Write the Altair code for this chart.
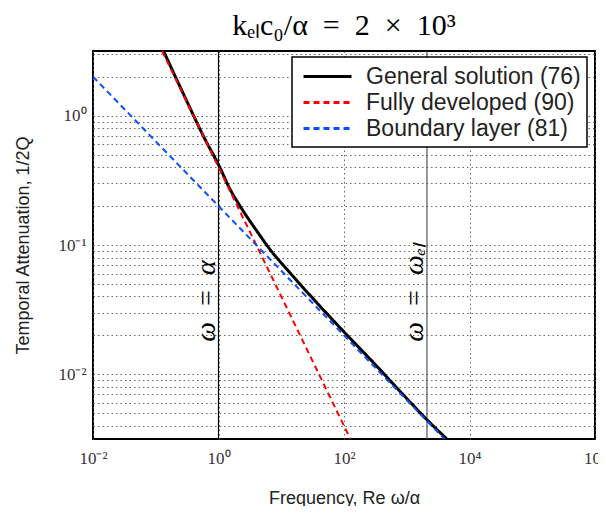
import altair as alt
import pandas as pd

# ---- data ----
series_names = ["General solution (76)", "Fully developed (90)", "Boundary layer (81)"]
series_colors = ["#000000", "#ff0000", "#0a4fff"]
series_dashes = [[1, 0], [6, 4], [6, 4]]
series_widths = [3, 2, 2]

general_freq = [0.133, 0.3, 0.614, 1.0, 1.54, 2.22, 3.2, 4.09, 6.66, 13.9, 22.6, 32.6, 98, 300, 1000, 2094, 4365]
general_att = [3.16, 1.35, 0.652, 0.418, 0.268, 0.199, 0.152, 0.128, 0.092, 0.0607, 0.0465, 0.0382, 0.0215, 0.0122, 0.0065, 0.00446, 0.00316]

fully_freq = [0.126, 1.0, 10.0, 126.0]
fully_att = [3.17, 0.4, 0.04, 0.00317]

boundary_freq = [0.01, 1.0, 100.0, 4000.0]
boundary_att = [2.0, 0.2, 0.02, 0.00316]

marker_freq = [1.0, 2100.0]
marker_labels = ["ω\u2002=\u2002α", "ω\u2002=\u2002ωₑₗ"]
marker_colors = ["#000000", "#555555"]
marker_label_att = [0.0179, 0.0179]

x_ticks = [1e-2, 1.0, 1e2, 1e4, 1e6]
x_tick_labels = ["10⁻²", "10⁰", "10²", "10⁴", "10⁶"]
y_ticks = [0.01, 0.1, 1.0]
y_tick_labels = ["10⁻²", "10⁻¹", "10⁰"]

x_domain = [1e-2, 1e6]
y_domain = [10 ** -2.5, 10 ** 0.5]
y_grid = [m * 10.0 ** e for e in (-3, -2, -1, 0) for m in range(1, 10)
          if y_domain[0] <= m * 10.0 ** e <= y_domain[1]]

# ---- tables ----
rows = []
for name, fx, fy in zip(series_names,
                        [general_freq, fully_freq, boundary_freq],
                        [general_att, fully_att, boundary_att]):
    for a, b in zip(fx, fy):
        rows.append({"series": name, "freq": a, "att": b})
lines_df = pd.DataFrame(rows)
marker_df = pd.DataFrame({"freq": marker_freq, "label": marker_labels,
                          "att": marker_label_att, "color": marker_colors})


def label_expr(vals, labels):
    expr = "''"
    for v, l in reversed(list(zip(vals, labels))):
        expr = f"abs(datum.value - {v!r}) < {v * 1e-6!r} ? '{l}' : ({expr})"
    return expr


x_scale = alt.Scale(type="log", domain=x_domain, nice=False)
y_scale = alt.Scale(type="log", domain=y_domain, nice=False)

x_axis = alt.Axis(values=x_ticks, labelExpr=label_expr(x_ticks, x_tick_labels),
                  grid=True, ticks=False, domain=False,
                  labelFont="Liberation Serif", labelFontSize=17, labelColor="#333333",
                  labelPadding=11, labelFlush=False, labelOverlap=False,
                  title="Frequency, Re ω/α", titleFont="Liberation Sans",
                  titleFontSize=18, titleFontWeight="normal", titleColor="#222222",
                  titleX=251, titleY=59, titleBaseline="middle", titleAlign="center")
y_axis = alt.Axis(values=y_grid, labelExpr=label_expr(y_ticks, y_tick_labels),
                  grid=True, ticks=False, domain=False,
                  labelFont="Liberation Serif", labelFontSize=17, labelColor="#333333",
                  labelPadding=7, labelFlush=False, labelOverlap=False,
                  title="Temporal Attenuation, 1/2Q", titleFont="Liberation Sans",
                  titleFontSize=18, titleFontWeight="normal", titleColor="#222222",
                  titleX=-70, titleY=194, titleBaseline="middle", titleAlign="center")

color_enc = alt.Color("series:N", title=None,
                      scale=alt.Scale(domain=series_names, range=series_colors),
                      sort=series_names)
dash_enc = alt.StrokeDash("series:N", title=None,
                          scale=alt.Scale(domain=series_names, range=series_dashes),
                          sort=series_names)

layers = []
for i, (name, w) in enumerate(zip(series_names, series_widths)):
    interp = "monotone" if i == 0 else "linear"
    layer = alt.Chart(lines_df).transform_filter(
        alt.datum.series == name
    ).mark_line(strokeWidth=w, clip=True, interpolate=interp).encode(
        x=alt.X("freq:Q", scale=x_scale, axis=x_axis),
        y=alt.Y("att:Q", scale=y_scale, axis=y_axis),
        color=color_enc,
        strokeDash=dash_enc,
    )
    layers.append(layer)

rules = alt.Chart(marker_df).mark_rule().encode(
    x=alt.X("freq:Q", scale=x_scale),
    color=alt.Color("color:N", scale=None),
    strokeWidth=alt.value(1.2),
)

texts = alt.Chart(marker_df).mark_text(
    angle=270, align="left", baseline="alphabetic", dy=-4,
    font="Liberation Serif", fontSize=28, fontStyle="italic", color="black"
).encode(
    x=alt.X("freq:Q", scale=x_scale),
    y=alt.Y("att:Q", scale=y_scale),
    text="label:N",
)

chart = alt.layer(rules, *layers, texts).properties(
    width=502, height=388,
    autosize=alt.AutoSizeParams(type="none"),
    padding={"left": 85, "top": 43, "right": 3, "bottom": 67},
    title=alt.TitleParams("kₑₗc₀/α\u2002=\u20022\u2002×\u200210³", font="Liberation Serif",
                          fontSize=30, fontWeight="normal", color="black",
                          anchor="middle", baseline="bottom", offset=11, dy=37),
).configure_view(
    stroke="black", strokeWidth=2
).configure_axis(
    gridDash=[1.5, 3], gridColor="#555555", gridOpacity=0.9, gridWidth=1
).configure_legend(
    orient="none", legendX=199, legendY=6,
    strokeColor="black", strokeWidth=1.5, fillColor="white",
    padding=6, cornerRadius=0,
    symbolType="M-2,0L2,0", symbolSize=576, symbolStrokeWidth=3, symbolOffset=16,
    labelFont="Liberation Sans", labelFontSize=23, labelColor="#222222",
    labelOffset=25, labelLimit=400, rowPadding=0,
)

chart.save("out.html", embed_options={"renderer": "svg", "actions": False})
